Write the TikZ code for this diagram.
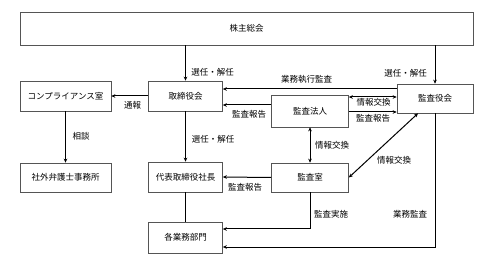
\documentclass[tikz,border=0pt]{standalone}
\usepackage{fontspec}
\setmainfont{Noto Sans CJK JP}
\usetikzlibrary{calc,arrows.meta}
\usepackage{xcolor}
\definecolor{boxline}{HTML}{555555}

\tikzset{
  box/.style={draw=boxline, line width=0.7pt, fill=white, inner sep=0pt, font=\fontsize{8.5}{10}\selectfont},
  lbl/.style={inner sep=0pt, font=\fontsize{8.5}{10}\selectfont},
  arr/.style={-{Stealth[length=4pt, width=3.6pt]}, line width=1pt},
  dbl/.style={{Stealth[length=4pt, width=3.6pt]}-{Stealth[length=4pt, width=3.6pt]}, line width=1pt}
}

\begin{document}
\begin{tikzpicture}[x=1pt, y=-1pt]

  \useasboundingbox (0,0) rectangle (484,264);

  % ==================== BOXES ====================
  \node[box, minimum width=453pt, minimum height=33pt] (soukai) at (246.5, 28.5) {株主総会};

  \node[box, minimum width=91pt, minimum height=30pt] (comp) at (65.5, 96) {コンプライアンス室};
  \node[box, minimum width=91pt, minimum height=29pt] (lawyer) at (65.5, 177.5) {社外弁護士事務所};

  \node[box, minimum width=74pt, minimum height=30pt] (board) at (185.5, 96) {取締役会};
  \node[box, minimum width=74pt, minimum height=30pt] (pres) at (185.5, 177) {代表取締役社長};
  \node[box, minimum width=74pt, minimum height=31pt] (bumon) at (185.5, 237.5) {各業務部門};

  \node[box, minimum width=77pt, minimum height=32pt] (hojin) at (310, 111) {監査法人};
  \node[box, minimum width=77pt, minimum height=29pt] (shitsu) at (310, 177.5) {監査室};

  \node[box, minimum width=76pt, minimum height=29pt] (kansayaku) at (435, 98.5) {監査役会};

  % ==================== CONNECTORS ====================
  \draw[arr] (soukai.south -| board.north) -- (board.north);
  \draw[arr] (soukai.south -| kansayaku.north) -- (kansayaku.north);

  \draw[arr] (board.west) -- (comp.east);
  \draw[arr] (comp.south) -- (lawyer.north);

  \draw[arr] ([yshift=9.5pt]kansayaku.west) -- ([yshift=9.5pt]kansayaku.west -| board.east);
  \draw[arr] ([yshift=6pt]hojin.west) -- ([yshift=6pt]hojin.west -| board.east);

  \draw[dbl] ([yshift=14pt]hojin.east) -- ([yshift=14pt]hojin.east -| kansayaku.west);
  \draw[arr] ([yshift=-1pt]hojin.east) -- ([yshift=-1pt]hojin.east -| kansayaku.west);

  \draw[dbl] (hojin.south) -- (shitsu.north);
  \draw[dbl] ([xshift=-17pt]kansayaku.south) -- (shitsu.east);

  \draw[arr] (board.south) -- (pres.north);
  \draw[arr] (shitsu.west) -- (pres.east);
  \draw[line width=1pt] (pres.south) -- (bumon.north);

  \draw[arr] (shitsu.south) |- ([yshift=8.5pt]bumon.east);
  \draw[arr] (kansayaku.south) |- ([yshift=-9.5pt]bumon.east);

  % ==================== LABELS ====================
  \node[lbl] (l-sennin1) at (212.5, 72) {選任・解任};
  \node[lbl] (l-sennin2) at (405.5, 73) {選任・解任};
  \node[lbl] (l-shikko) at (306.5, 79) {業務執行監査};
  \node[lbl] (l-tsuho) at (132.5, 105) {通報};
  \node[lbl] (l-sodan) at (81, 136) {相談};
  \node[lbl] (l-sennin3) at (213, 139) {選任・解任};
  \node[lbl] (l-hokoku1) at (249, 114) {監査報告};
  \node[lbl] (l-joho1) at (373.5, 102) {情報交換};
  \node[lbl] (l-hokoku2) at (373, 118) {監査報告};
  \node[lbl] (l-joho2) at (332, 145) {情報交換};
  \node[lbl] (l-joho3) at (394, 160) {情報交換};
  \node[lbl] (l-hokoku3) at (245, 187) {監査報告};
  \node[lbl] (l-jisshi) at (331, 214) {監査実施};
  \node[lbl] (l-gyomu) at (410, 214) {業務監査};

\end{tikzpicture}
\end{document}
